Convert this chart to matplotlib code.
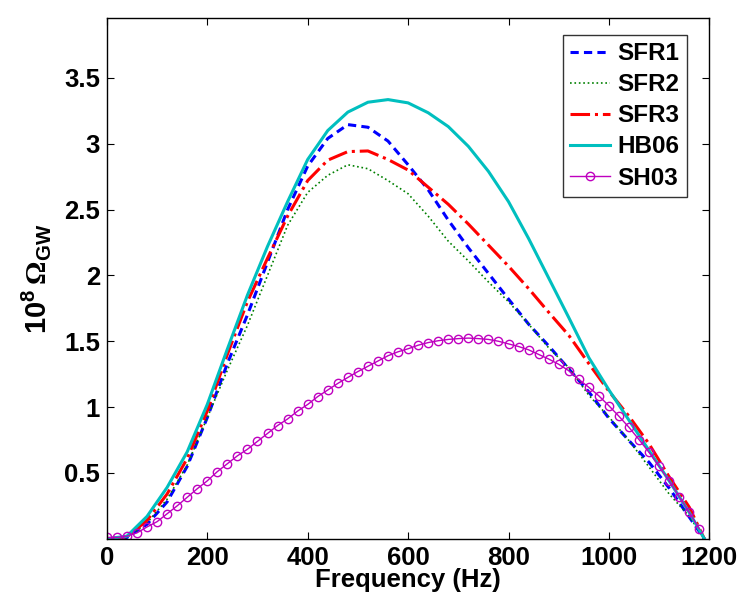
import matplotlib
matplotlib.use('Agg')
import matplotlib.pyplot as plt

plt.rcParams['font.family'] = ['Liberation Sans', 'DejaVu Sans']
plt.rcParams['font.weight'] = 'bold'
plt.rcParams['mathtext.fontset'] = 'custom'
plt.rcParams['mathtext.rm'] = 'Liberation Serif'
plt.rcParams['mathtext.bf'] = 'Liberation Sans:bold'

# frequency grid (Hz) for the smooth curves
freq = [0, 40, 80, 120, 160, 200, 240, 280, 320, 360, 400, 440, 480, 520, 560,
        600, 640, 680, 720, 760, 800, 840, 880, 920, 960, 1000, 1040, 1080,
        1120, 1160, 1190]

sfr1 = [0, 0.01, 0.11, 0.28, 0.55, 0.92, 1.33, 1.70, 2.10, 2.50, 2.83, 3.04,
        3.145, 3.125, 3.02, 2.84, 2.65, 2.42, 2.21, 2.015, 1.82, 1.63, 1.465,
        1.29, 1.115, 0.915, 0.745, 0.58, 0.385, 0.165, 0]
sfr2 = [0, 0.01, 0.12, 0.30, 0.56, 0.92, 1.28, 1.62, 2.00, 2.38, 2.63, 2.76,
        2.84, 2.81, 2.72, 2.62, 2.45, 2.26, 2.11, 1.95, 1.80, 1.63, 1.45,
        1.30, 1.09, 0.925, 0.745, 0.545, 0.34, 0.17, 0]
sfr3 = [0, 0.015, 0.14, 0.34, 0.61, 0.97, 1.40, 1.80, 2.13, 2.45, 2.72, 2.875,
        2.94, 2.945, 2.88, 2.80, 2.67, 2.54, 2.39, 2.23, 2.07, 1.90, 1.72,
        1.545, 1.33, 1.12, 0.93, 0.72, 0.47, 0.24, 0]
hb06 = [0, 0.02, 0.17, 0.39, 0.66, 1.02, 1.44, 1.85, 2.22, 2.56, 2.88, 3.10,
        3.24, 3.315, 3.335, 3.31, 3.235, 3.13, 2.98, 2.79, 2.56, 2.28, 1.98,
        1.68, 1.375, 1.13, 0.90, 0.67, 0.44, 0.20, 0]

# SH03 sampled every 20 Hz (markers)
freq_sh = list(range(0, 1181, 20))
sh03 = [0.01, 0.01, 0.02, 0.045, 0.09, 0.13, 0.19, 0.25, 0.315, 0.38,
        0.44, 0.51, 0.57, 0.63, 0.68, 0.74, 0.80, 0.86, 0.91, 0.97,
        1.02, 1.08, 1.13, 1.18, 1.225, 1.27, 1.31, 1.35, 1.39, 1.42,
        1.443, 1.47, 1.49, 1.504, 1.514, 1.52, 1.524, 1.52, 1.514, 1.50,
        1.48, 1.46, 1.435, 1.40, 1.365, 1.325, 1.276, 1.21, 1.15, 1.085,
        1.01, 0.93, 0.846, 0.753, 0.656, 0.55, 0.44, 0.32, 0.20, 0.075]

fig = plt.figure(figsize=(7.42, 5.98), dpi=100)
ax = fig.add_axes([0.144, 0.099, 0.812, 0.871])

ax.plot(freq, sfr1, '--', color=(0, 0, 1), lw=2.2, label='SFR1', dashes=(2.7, 1.7))
ax.plot(freq, sfr2, ':', color=(0, 0.5, 0), lw=1.2, label='SFR2')
ax.plot(freq, sfr3, '-.', color=(1, 0, 0), lw=2.2, label='SFR3')
ax.plot(freq, hb06, '-', color=(0, 0.75, 0.75), lw=2.2, label='HB06')
ax.plot(freq_sh, sh03, '-o', color=(0.75, 0, 0.75), lw=1.0, ms=6,
        mfc='none', mew=1.0, label='SH03')

ax.set_xlim(0, 1200)
ax.set_ylim(0, 3.955)
ax.set_xticks([0, 200, 400, 600, 800, 1000, 1200])
ax.set_yticks([0.5, 1, 1.5, 2, 2.5, 3, 3.5])
ax.set_yticklabels(['0.5', '1', '1.5', '2', '2.5', '3', '3.5'])
ax.tick_params(direction='in', length=5, width=0.8, top=True, right=True,
               labelsize=18.5, pad=5)
for s in ax.spines.values():
    s.set_linewidth(1.0)

ax.set_xlabel('Frequency (Hz)', fontsize=18.5, fontweight='bold', labelpad=-1)
ax.set_ylabel(r'$\mathbf{10^8}\,\mathrm{\Omega}_{\mathbf{GW}}$', fontsize=21, labelpad=8)

leg = ax.legend(loc='upper right', bbox_to_anchor=(0.963, 0.967), fontsize=17.5,
                frameon=True, fancybox=False, edgecolor='black',
                handlelength=1.65, handletextpad=0.3, labelspacing=0.33,
                borderpad=0.3, borderaxespad=0)
leg.get_frame().set_linewidth(1.0)

fig.savefig('out.png', dpi=100)
